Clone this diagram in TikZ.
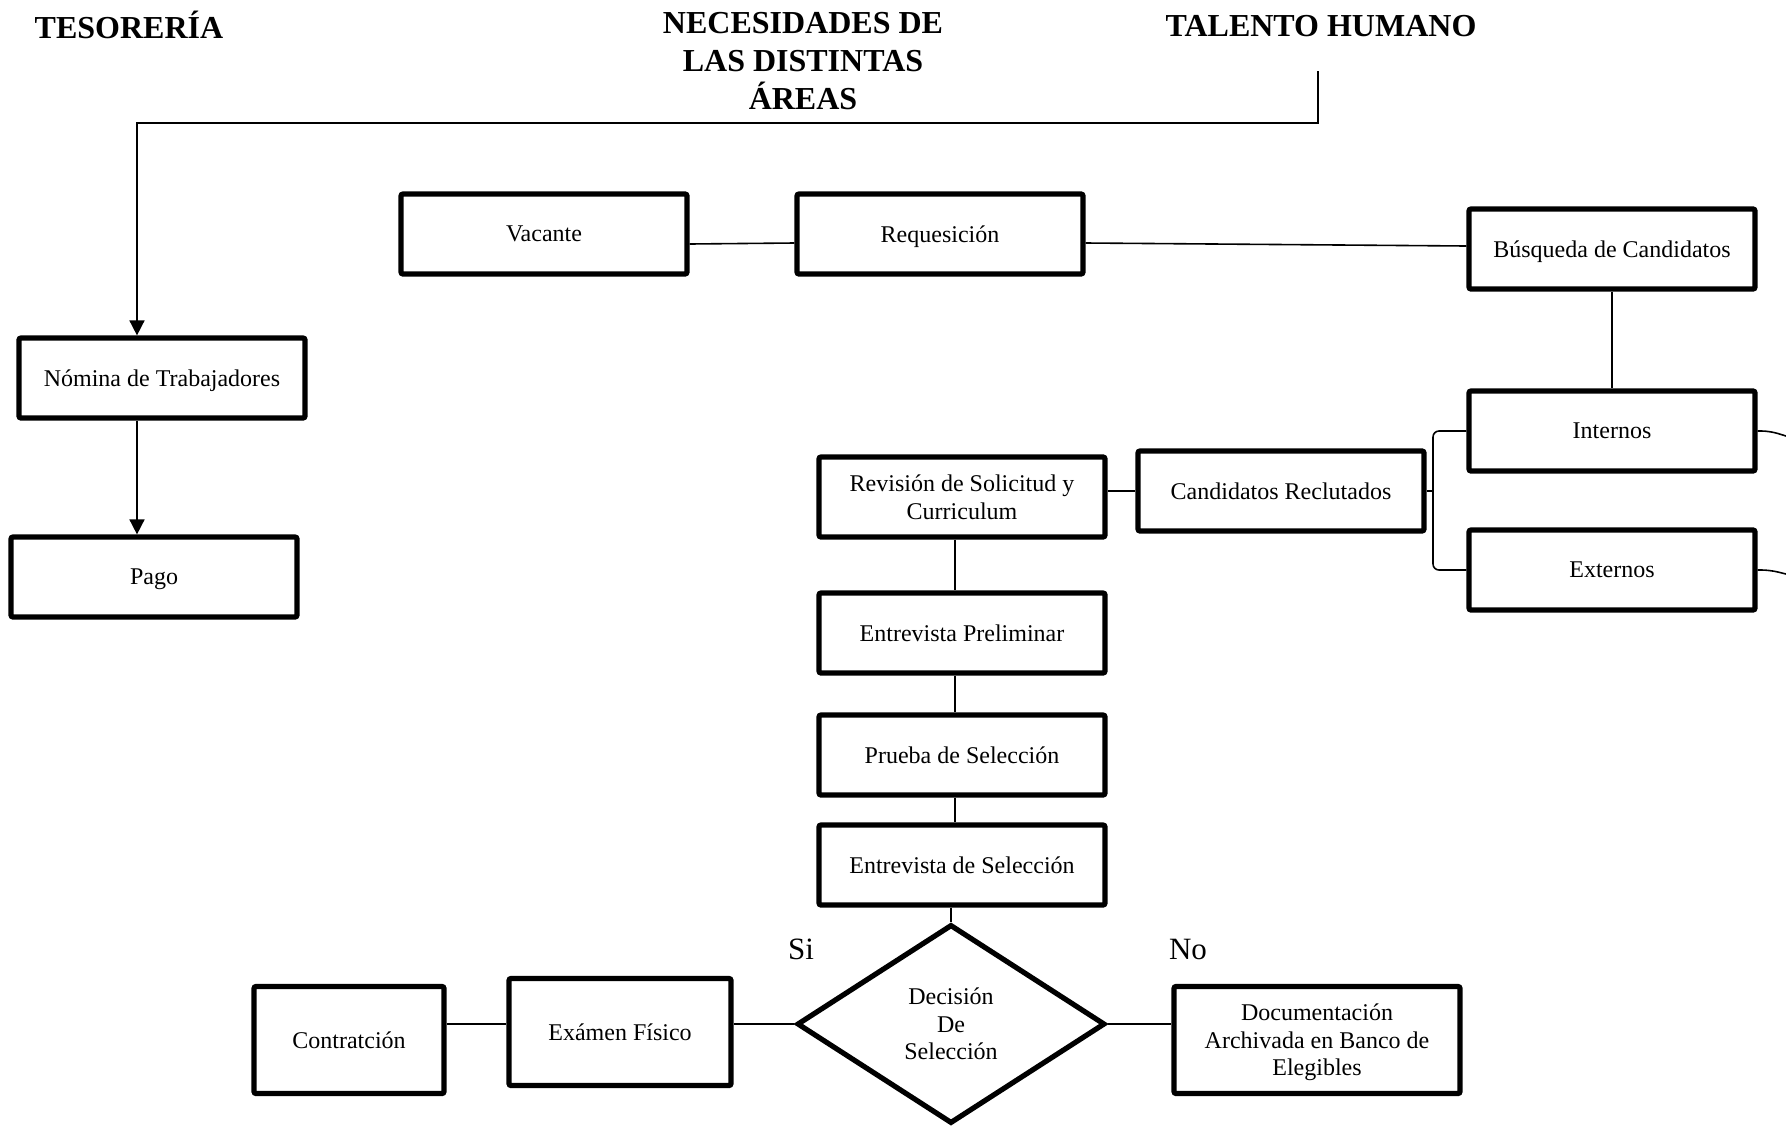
\documentclass[tikz,border=0pt]{standalone}
\usepackage{fontspec}
\setmainfont{Liberation Serif}
\usetikzlibrary{arrows.meta,shapes.geometric,calc}
\newcommand\bodyfnt{\fontsize{12}{13.7}\selectfont}
\newcommand\hdrfnt{\fontsize{16}{18.8}\selectfont\bfseries}
\newcommand\lblfnt{\fontsize{15.5}{18}\selectfont}
\begin{document}
\begin{tikzpicture}[x=0.5pt,y=-0.5pt,
  box/.style={draw, line width=2.6pt, rounded corners=1pt, minimum width=143pt, minimum height=40pt, align=center, font=\bodyfnt, inner sep=2pt, text depth=0pt},
  tallbox/.style={box, minimum height=53.5pt},
  dec/.style={draw, diamond, line width=2.6pt, minimum width=154pt, minimum height=99.5pt, aspect=1.55, align=center, font=\bodyfnt, inner sep=1pt, text depth=0pt},
  conn/.style={line width=0.8pt},
  arr/.style={conn, -{Triangle[length=7.5pt,width=7.5pt]}},
  hdr/.style={font=\hdrfnt, align=center},
  lbl/.style={font=\lblfnt}]
\useasboundingbox (0,0) rectangle (1786,1125);
% headers
\node[hdr] (tes) at (129,25) {TESORERÍA};
\node[hdr] (nec) at (803,61) {NECESIDADES DE\\LAS DISTINTAS\\ÁREAS};
\node[hdr] (tal) at (1321,26) {TALENTO HUMANO};
% boxes
\node[box] (vac) at (544,234) {Vacante};
\node[box] (req) at (940,234) {Requesición};
\node[box] (bus) at (1612,249) {Búsqueda de Candidatos};
\node[box] (nom) at (162,378) {Nómina de Trabajadores};
\node[box] (pago) at (154,577) {Pago};
\node[box] (int) at (1612,431) {Internos};
\node[box] (ext) at (1612,570) {Externos};
\node[box] (cand) at (1281,491) {Candidatos Reclutados};
\node[box] (rev) at (962,497) {Revisión de Solicitud y\\Curriculum};
\node[box] (pre) at (962,633) {Entrevista Preliminar};
\node[box] (pru) at (962,755) {Prueba de Selección};
\node[box] (sel) at (962,865) {Entrevista de Selección};
\node[dec] (decn) at (951,1024) {Decisión\\De\\Selección};
\node[tallbox, minimum width=95pt] (con) at (349,1040) {Contratción};
\node[tallbox, minimum width=111pt] (exa) at (620,1032) {Exámen Físico};
\node[tallbox] (doc) at (1317,1040) {Documentación\\Archivada en Banco de\\Elegibles};
\node[lbl] (si) at (801,949) {Si};
\node[lbl] (no) at (1188,949) {No};
% coordinates
\coordinate (t1) at (1318,71);
\coordinate (t2) at (1318,123);
\coordinate (t3) at (137,123);
\coordinate (bx) at (1433,0);
\coordinate (vx) at (955,0);
\coordinate (r1) at (1786,436);
\coordinate (r2) at (1786,574);
% connectors
\draw[arr] (t1) -- (t2) -- (t3) -- (t3 |- nom.north);
\draw[arr] (nom.south -| t3) -- (t3 |- pago.north);
\draw[conn] ([yshift=-5pt]vac.east) -- ([yshift=-4.5pt]req.west);
\draw[conn] ([yshift=-4.5pt]req.east) -- ([yshift=1.5pt]bus.west);
\draw[conn] (bus.south) -- (bus.south |- int.north);
\draw[conn, rounded corners=3pt] (int.west) -- (int.west -| bx) -- (ext.west -| bx) -- (ext.west);
\draw[conn] (cand.east) -- (cand.east -| bx);
\draw[conn] (rev.east |- cand.west) -- (cand.west);
\draw[conn, rounded corners=4pt] (int.east) -- ++(12,0) -- (r1);
\draw[conn, rounded corners=4pt] (ext.east) -- ++(12,0) -- (r2);
\draw[conn] (rev.south -| vx) -- (pre.north -| vx);
\draw[conn] (pre.south -| vx) -- (pru.north -| vx);
\draw[conn] (pru.south -| vx) -- (sel.north -| vx);
\draw[conn] (sel.south -| decn.north) -- (decn.north);
\draw[conn] (exa.east |- decn.west) -- (decn.west);
\draw[conn] (con.east |- decn.west) -- (exa.west |- decn.west);
\draw[conn] (decn.east) -- (doc.west |- decn.east);
\end{tikzpicture}
\end{document}
